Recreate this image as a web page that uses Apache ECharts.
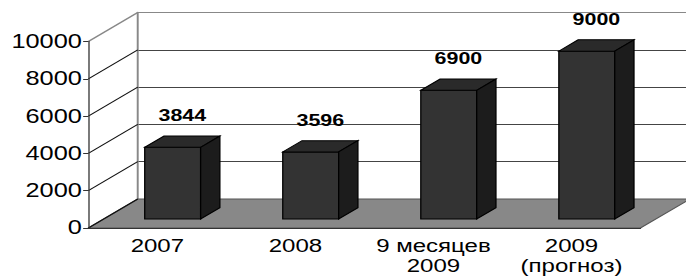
<!DOCTYPE html>
<html>
<head>
<meta charset="utf-8">
<script src="https://cdn.jsdelivr.net/npm/echarts@6/dist/echarts.min.js"></script>
<style>
html, body { margin: 0; padding: 0; background: #fff; overflow: hidden; }
/* картинка в оригинале растянута по горизонтали */
#main { width: 528px; height: 278px; transform: scaleX(1.2992); transform-origin: 0 0; }
</style>
</head>
<body>
<div id="main"></div>
<script>
var categories = ['2007', '2008', '9 месяцев\n2009', '2009\n(прогноз)'];
var values = [3844, 3596, 6900, 9000];
var yTicks = [0, 2000, 4000, 6000, 8000, 10000];

var myChart = echarts.init(document.getElementById('main'), null, { renderer: 'svg' });

// сдвиг задней стенки (псевдо-3D)
var DX = 38, DY = -29;
var FONT = 'Liberation Sans';

var option = {
  backgroundColor: '#fff',
  animation: false,
  grid: [
    { left: 68, right: 35, top: 41.5, bottom: 50 },
    { left: 68 + DX, right: 0, top: 41.5 + DY, bottom: 50 - DY }
  ],
  xAxis: [{
    type: 'category',
    gridIndex: 0,
    data: categories,
    z: 10,
    axisLine: { lineStyle: { color: '#333', width: 1 } },
    axisTick: { length: 4, lineStyle: { color: '#333' } },
    axisLabel: {
      interval: 0,
      color: '#000', fontFamily: FONT, fontSize: 18.5, lineHeight: 20, margin: 8
    }
  }, {
    type: 'category',
    gridIndex: 1,
    data: categories,
    show: false
  }],
  yAxis: [{
    type: 'value',
    gridIndex: 0,
    min: 0, max: 10000, interval: 2000,
    z: 10,
    axisLine: { show: true, lineStyle: { color: '#333', width: 1 } },
    axisTick: { show: true, length: 4, lineStyle: { color: '#333' } },
    axisLabel: {
      color: '#000', fontFamily: FONT, fontSize: 19.5, margin: 5,
      formatter: function (v) { return String(v); }
    },
    splitLine: { show: false }
  }, {
    type: 'value',
    gridIndex: 1,
    min: 0, max: 10000, interval: 2000,
    axisLine: { show: true, lineStyle: { color: '#888', width: 1.5 } },
    axisTick: { show: false },
    axisLabel: { show: false },
    splitLine: {
      show: true,
      lineStyle: { color: ['#888', '#444', '#444', '#444', '#444', '#888'], width: 1 }
    }
  }],
  series: [{
    // пол
    type: 'custom',
    z: 1,
    xAxisIndex: 0, yAxisIndex: 0,
    data: [[0, 0]],
    renderItem: function (params, api) {
      var cs = params.coordSys;
      var yb = cs.y + cs.height;
      return {
        type: 'polygon',
        shape: { points: [
          [cs.x, yb], [cs.x + cs.width, yb],
          [cs.x + cs.width + DX, yb + DY], [cs.x + DX, yb + DY]
        ] },
        style: { fill: '#888', stroke: '#555', lineWidth: 1 }
      };
    }
  }, {
    // боковая стенка - диагонали
    type: 'custom',
    z: 2,
    xAxisIndex: 0, yAxisIndex: 0,
    data: yTicks.map(function (t) { return [0, t]; }),
    renderItem: function (params, api) {
      var cs = params.coordSys;
      var y = api.coord([0, api.value(1)])[1];
      var last = params.dataIndex === yTicks.length - 1;
      return {
        type: 'line',
        shape: { x1: cs.x, y1: y, x2: cs.x + DX, y2: y + DY },
        style: { stroke: last ? '#888' : '#111', lineWidth: last ? 1.5 : 1 }
      };
    }
  }, {
    // столбики
    type: 'custom',
    z: 3,
    xAxisIndex: 0, yAxisIndex: 0,
    data: values.map(function (v, i) { return [i, v]; }),
    renderItem: function (params, api) {
      var i = api.value(0), v = api.value(1);
      var base = api.coord([i, 0]);
      var top = api.coord([i, v]);
      var w = api.size([1, 0])[0] * 0.405;
      var fx = DX * 0.31, fy = DY * 0.31;
      var bx = DX * 0.39, by = DY * 0.39;
      var x0 = base[0] - w / 2 + fx, x1 = x0 + w;
      var yb = base[1] + fy, yt = top[1] + fy;
      var st = { stroke: '#000', lineWidth: 1 };
      return {
        type: 'group',
        children: [{
          type: 'rect',
          shape: { x: x0, y: yt, width: w, height: yb - yt },
          style: Object.assign({ fill: '#333' }, st)
        }, {
          type: 'polygon',
          shape: { points: [[x0, yt], [x1, yt], [x1 + bx, yt + by], [x0 + bx, yt + by]] },
          style: Object.assign({ fill: '#2a2a2a' }, st)
        }, {
          type: 'polygon',
          shape: { points: [[x1, yt], [x1 + bx, yt + by], [x1 + bx, yb + by], [x1, yb]] },
          style: Object.assign({ fill: '#1c1c1c' }, st)
        }, {
          type: 'text',
          x: (x0 + x1) / 2 + bx / 2,
          y: yt - 32,
          style: {
            text: String(v), fill: '#000',
            fontFamily: FONT, fontWeight: 'bold', fontSize: 16.5,
            align: 'center', verticalAlign: 'middle'
          }
        }]
      };
    }
  }]
};

myChart.setOption(option);
</script>
</body>
</html>
